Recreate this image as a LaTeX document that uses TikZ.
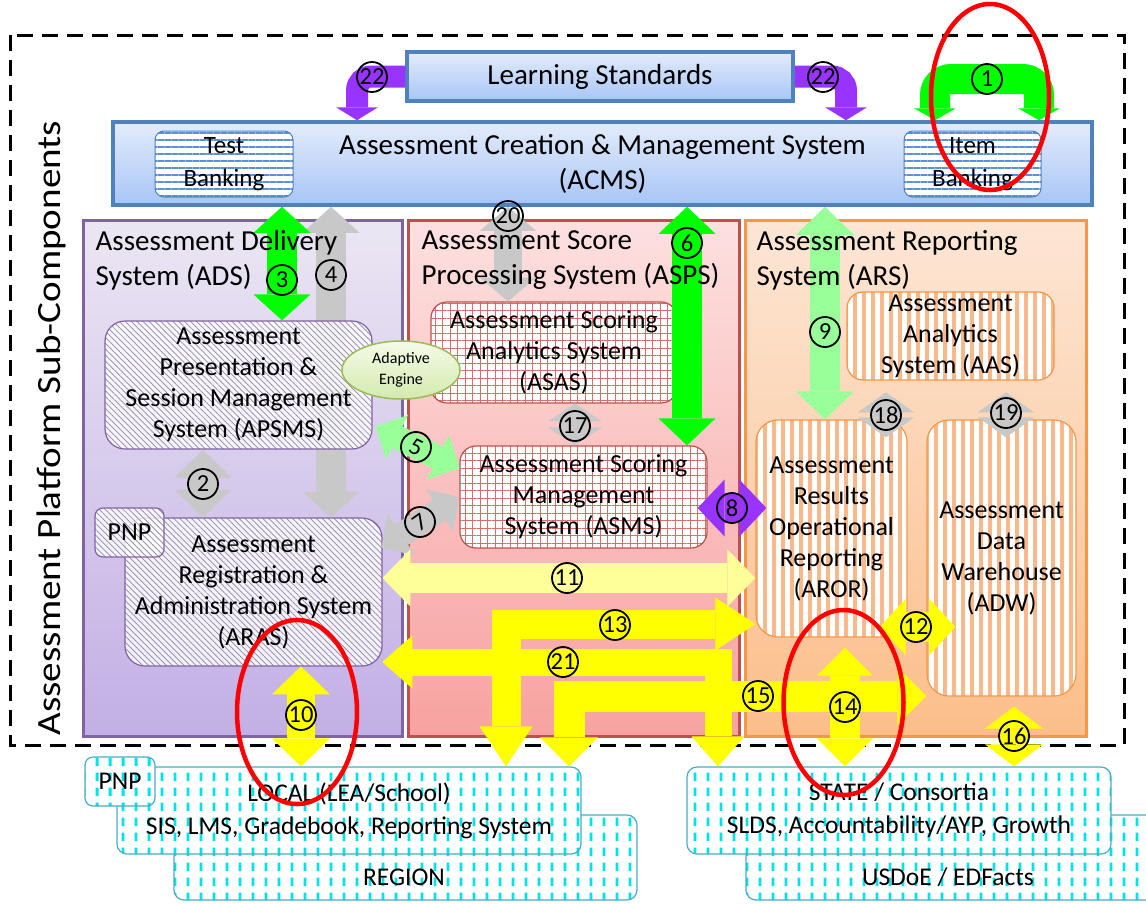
\documentclass[tikz,border=0pt]{standalone}
\usepackage{fontspec}
\setmainfont{Carlito}
\usetikzlibrary{arrows.meta,calc,shapes.geometric,patterns.meta}

\definecolor{acmsline}{HTML}{4F81BD}
\definecolor{acmstop}{HTML}{E3ECFB}
\definecolor{acmsbot}{HTML}{A8C5F6}
\definecolor{adsline}{HTML}{8064A2}
\definecolor{adstop}{HTML}{EBE6F3}
\definecolor{adsbot}{HTML}{C2AFE5}
\definecolor{aspsline}{HTML}{C0504D}
\definecolor{aspstop}{HTML}{FDE0E0}
\definecolor{aspsbot}{HTML}{F7A2A0}
\definecolor{arsline}{HTML}{F79646}
\definecolor{arstop}{HTML}{FDE6D5}
\definecolor{arsbot}{HTML}{FBBE8A}
\definecolor{stripeblue}{HTML}{5B8FD6}
\definecolor{hatchgray}{HTML}{8F86A6}
\definecolor{gridred}{HTML}{D46F6C}
\definecolor{stripeorange}{HTML}{F9B889}
\definecolor{dashcyan}{HTML}{00E1EA}
\definecolor{localline}{HTML}{4BACC6}
\definecolor{engline}{HTML}{9BBB59}
\definecolor{engtop}{HTML}{F5FBE8}
\definecolor{engbot}{HTML}{D3EAAE}
\definecolor{brightgreen}{HTML}{00FF00}
\definecolor{softgreen}{HTML}{99FF99}
\definecolor{violetarrow}{HTML}{9933FF}
\definecolor{arrowgray}{HTML}{C8C8C8}
\definecolor{brightyellow}{HTML}{FFFF00}
\definecolor{paleyellow}{HTML}{FFFF99}

\newcommand{\titletext}{\fontsize{29}{35}\selectfont}
\newcommand{\boxtext}{\fontsize{26}{31}\selectfont}
\newcommand{\banktext}{\fontsize{25}{33}\selectfont}
\newcommand{\basetext}{\fontsize{25.5}{33}\selectfont}
\newcommand{\sidetext}{\fontsize{34}{40}\selectfont}
\newcommand{\numtext}{\fontsize{24.5}{24.5}\selectfont}
\newcommand{\enginetext}{\fontsize{16}{21}\selectfont}

\tikzdeclarepattern{
  name=cyandash,
  type=uncolored,
  bounding box={(0pt,0pt) and (13pt,15pt)},
  tile size={(13pt,15pt)},
  code={\pgfpathrectangle{\pgfpoint{5pt}{3pt}}{\pgfpoint{3pt}{9pt}}\pgfusepath{fill}}
}

\tikzset{
  dashframe/.style={line width=3pt, dash pattern=on 16pt off 9pt},
  sidetitle/.style={rotate=90, xscale=1.15, font=\sidetext, inner sep=0pt},
  bluebox/.style={draw=acmsline, line width=3.5pt, top color=acmstop, bottom color=acmsbot, font=\titletext, align=center, inner sep=0pt},
  bankbox/.style={draw=acmsline, line width=1pt, rounded corners=9pt, preaction={fill=white}, pattern={Lines[distance=7pt,line width=1.8pt]}, pattern color=stripeblue, font=\banktext, align=center, inner sep=0pt},
  panel/.style={draw=#1line, line width=3pt, top color=#1top, bottom color=#1bot, inner sep=0pt},
  paneltitle/.style={anchor=north west, align=left, font=\titletext, inner sep=0pt},
  hatchbox/.style={draw=adsline, line width=1.2pt, rounded corners=20pt, preaction={fill=white, fill opacity=0.8}, pattern={Lines[angle=-45,distance=4.2pt,line width=0.7pt]}, pattern color=hatchgray, font=\boxtext, align=center, inner sep=0pt},
  gridbox/.style={draw=aspsline, line width=1.2pt, rounded corners=16pt, preaction={fill=white}, pattern={Hatch[distance=7.5pt,line width=0.9pt]}, pattern color=gridred, font=\boxtext, align=center, inner sep=0pt},
  stripebox/.style={draw=arsline, line width=1.2pt, rounded corners=22pt, preaction={fill=white}, pattern={Lines[angle=90,distance=9pt,line width=4.5pt]}, pattern color=stripeorange, font=\boxtext, align=center, inner sep=0pt},
  dashbox/.style={draw=localline, line width=1.2pt, rounded corners=10pt, preaction={fill=white}, pattern=cyandash, pattern color=dashcyan, font=\basetext, align=center, inner sep=0pt},
  engine/.style={ellipse, draw=engline, line width=1.5pt, top color=engtop, bottom color=engbot, font=\enginetext, align=center, inner sep=0pt},
  num/.style={circle, draw=black, line width=1.8pt, minimum size=30pt, inner sep=0pt, font=\numtext},
  ring/.style={draw=red, line width=4.5pt},
  sglarrow/.style n args={3}{line width=#1, arrows={-Triangle[width=#2,length=#3,line width=0pt]}},
  dblarrow/.style n args={3}{line width=#1, arrows={Triangle[width=#2,length=#3,line width=0pt]-Triangle[width=#2,length=#3,line width=0pt]}},
}

\begin{document}
\begin{tikzpicture}[x=1pt,y=-1pt]
    \useasboundingbox (0,0) rectangle (1146,903);

    % Platform boundary
    \draw[dashframe] (10,35) rectangle (1124,745);
    \node[sidetitle] (side) at (51,428) {Assessment Platform Sub-Components};

    % Learning standards and ACMS
    \node[bluebox, minimum width=386, minimum height=49] (ls) at (600,76.5) {Learning Standards};
    \node[bluebox, minimum width=979, minimum height=83] (acms) at (602.5,163.5) {Assessment Creation \& Management System\\(ACMS)};
    \node[bankbox, minimum width=138, minimum height=66] (testbank) at (224,164) {Test\\Banking};
    \node[bankbox, minimum width=137, minimum height=66] (itembank) at (972.5,164) {Item\\Banking};

    % Sub-system panels
    \node[panel=ads, minimum width=319, minimum height=516] (ads) at (242.5,478) {};
    \node[panel=asps, minimum width=331, minimum height=516] (asps) at (573.5,478) {};
    \node[panel=ars, minimum width=341, minimum height=516] (ars) at (915.5,478) {};

    % Number spots and bends
    \coordinate (c2) at (203,484);
    \coordinate (c3) at (282,280);
    \coordinate (c4) at (331,275);
    \coordinate (c6) at (687,243);
    \coordinate (c8) at (732,508);
    \coordinate (c9) at (825,332);
    \coordinate (c10) at (301,715);
    \coordinate (c11) at (567,578);
    \coordinate (c12) at (916,627);
    \coordinate (c14) at (845,707);
    \coordinate (c16) at (1014,736);
    \coordinate (c17) at (575,426);
    \coordinate (c18) at (886,415);
    \coordinate (c19) at (1006,413);
    \coordinate (c20) at (508,216);
    \coordinate (k1l) at (935,79);
    \coordinate (k1r) at (1039,79);
    \coordinate (k13) at (506,624);
    \coordinate (k15) at (569,696);
    \coordinate (k21) at (718,662);
    \coordinate (k22a) at (357,76.5);
    \coordinate (k22b) at (846,76.5);

    % Delivery system
    \node[hatchbox, minimum width=257, minimum height=148] (aras) at (253.5,592) {Assessment\\Registration \&\\Administration System\\(ARAS)};
    \node[hatchbox, rounded corners=8pt, minimum width=69, minimum height=49] (pnpa) at (129.5,532.5) {PNP};
    \draw[dblarrow={30pt}{57pt}{26pt}, arrowgray] (acms.south -| c4) -- (aras.north -| c4);
    \node[hatchbox, minimum width=267, minimum height=128] (apsms) at (238.5,385) {Assessment\\Presentation \&\\Session Management\\System (APSMS)};

    % Score processing system
    \node[gridbox, minimum width=246, minimum height=101] (asas) at (554,352.5) {Assessment Scoring\\Analytics System\\(ASAS)};
    \node[gridbox, minimum width=247, minimum height=102] (asms) at (583.5,497) {Assessment Scoring\\Management\\System (ASMS)};

    % Reporting system
    \node[stripebox, rounded corners=16pt, minimum width=207, minimum height=88] (aas) at (950.5,336) {Assessment\\Analytics\\System (AAS)};
    \node[stripebox, minimum width=151, minimum height=217] (aror) at (831.5,528.5) {Assessment\\Results\\Operational\\Reporting\\(AROR)};
    \node[stripebox, minimum width=149, minimum height=276] (adw) at (1001.5,558) {Assessment\\Data\\Warehouse\\(ADW)};

    % Outside systems
    \node[dashbox, minimum width=463, minimum height=85] (region) at (405.5,857.5) {};
    \node[dashbox, minimum width=414, minimum height=85] (usdoe) at (953,857.5) {};
    \node[dashbox, minimum width=464, minimum height=87] (local) at (349,810.5) {LOCAL (LEA/School)\\SIS, LMS, Gradebook, Reporting System};
    \node[dashbox, minimum width=424, minimum height=87] (state) at (899,810.5) {STATE / Consortia\\SLDS, Accountability/AYP, Growth};
    \node[dashbox, rounded corners=8pt, minimum width=70, minimum height=49] (pnpb) at (120,781.5) {PNP};
    \node[font=\basetext] (regionlbl) at (404,877) {REGION};
    \node[font=\basetext] (usdoelbl) at (948,877) {USDoE / EDFacts};

    % 22 and 1 into ACMS
    \draw[sglarrow={22pt}{42pt}{13pt}, violetarrow, rounded corners=14pt] (ls.west) -- (k22a) -- (acms.north -| k22a);
    \draw[sglarrow={22pt}{42pt}{13pt}, violetarrow, rounded corners=14pt] (ls.east) -- (k22b) -- (acms.north -| k22b);
    \draw[dblarrow={30pt}{42pt}{12pt}, brightgreen, rounded corners=16pt] (acms.north -| k1l) -- (k1l) -- (k1r) -- (acms.north -| k1r);

    % ACMS down to the panels
    \draw[dblarrow={30pt}{57pt}{26pt}, brightgreen] (acms.south -| c3) -- (apsms.north -| c3);
    \draw[dblarrow={28pt}{56pt}{24pt}, arrowgray] (acms.south -| c20) -- (asas.north -| c20);
    \draw[dblarrow={30pt}{57pt}{27pt}, brightgreen] (acms.south -| c6) -- (asms.north -| c6);
    \draw[dblarrow={30pt}{58pt}{28pt}, softgreen] (acms.south -| c9) -- (aror.north -| c9);

    % Inside the panels
    \draw[dblarrow={32pt}{57pt}{28pt}, arrowgray] (apsms.south -| c2) -- (aras.north -| c2);
    \draw[dblarrow={30pt}{54pt}{18pt}, arrowgray] (asas.south -| c17) -- (asms.north -| c17);
    \draw[dblarrow={30pt}{56pt}{20pt}, arrowgray, shorten <=10pt, shorten >=-18pt] (aas.south -| c18) -- (aror.north -| c18);
    \draw[dblarrow={30pt}{56pt}{20pt}, arrowgray, shorten <=10pt, shorten >=-18pt] (aas.south -| c19) -- (adw.north -| c19);

    % Between the panels
    \draw[dblarrow={24pt}{50pt}{24pt}, softgreen] ($(apsms.south east)+(3,-23)$) -- ($(asms.west)+(0,-29)$);
    \draw[dblarrow={24pt}{50pt}{24pt}, arrowgray] ($(aras.north east)+(-1,30)$) -- (asms.west);
    \draw[dblarrow={30pt}{57pt}{27pt}, violetarrow, shorten <=-10pt, shorten >=-11pt] (asms.east |- c8) -- (aror.west |- c8);
    \draw[dblarrow={30pt}{57pt}{28pt}, paleyellow] (aras.east |- c11) -- (aror.west |- c11);
    \draw[dblarrow={30pt}{56pt}{26pt}, brightyellow, shorten <=-28pt, shorten >=-29pt] (aror.east |- c12) -- (adw.west |- c12);

    % Out to local and state
    \draw[dblarrow={29pt}{53pt}{40pt}, brightyellow] (local.north -| k13) -- (k13) -- (aror.west |- k13);
    \draw[dblarrow={27pt}{53pt}{30pt}, brightyellow] (aras.east |- k21) -- (k21) -- (state.north -| k21);
    \draw[dblarrow={31pt}{58pt}{29pt}, brightyellow] (local.north -| k15) -- (k15) -- (adw.west |- k15);
    \draw[dblarrow={28pt}{58pt}{28pt}, brightyellow] (aras.south -| c10) -- (local.north -| c10);
    \draw[dblarrow={30pt}{56pt}{28pt}, brightyellow, shorten <=10pt] (aror.south -| c14) -- (state.north -| c14);
    \draw[dblarrow={28pt}{58pt}{22pt}, brightyellow, shorten <=10pt] (adw.south -| c16) -- (state.north -| c16);

    % Adaptive engine
    \node[engine, minimum width=118, minimum height=58] (engine) at (401,370) {Adaptive\\Engine};

    % Panel titles
    \node[paneltitle] (adstitle) at ([xshift=14pt,yshift=-12pt]ads.north west) {Assessment Delivery\\System (ADS)};
    \node[paneltitle] (aspstitle) at ([xshift=15pt,yshift=-12pt]asps.north west) {Assessment Score\\Processing System (ASPS)};
    \node[paneltitle] (arstitle) at ([xshift=13pt,yshift=-12pt]ars.north west) {Assessment Reporting\\System (ARS)};

    % Interface numbers
    \node[num] (n1) at (987,79) {1};
    \node[num] (n2) at (c2) {2};
    \node[num] (n3) at (c3) {3};
    \node[num] (n4) at (c4) {4};
    \node[num, rotate=-26] (n5) at (416,447) {5};
    \node[num] (n6) at (c6) {6};
    \node[num, rotate=35] (n7) at (420,522) {7};
    \node[num] (n8) at (c8) {8};
    \node[num] (n9) at (c9) {9};
    \node[num] (n10) at (c10) {10};
    \node[num] (n11) at (c11) {11};
    \node[num] (n12) at (c12) {12};
    \node[num] (n13) at (615,625) {13};
    \node[num] (n14) at (c14) {14};
    \node[num] (n15) at (758,696) {15};
    \node[num] (n16) at (c16) {16};
    \node[num] (n17) at (c17) {17};
    \node[num] (n18) at (c18) {18};
    \node[num] (n19) at (c19) {19};
    \node[num] (n20) at (c20) {20};
    \node[num] (n21) at (563,662) {21};
    \node[num] (n22a) at (372,77) {22};
    \node[num] (n22b) at (823,77) {22};

    % Highlight rings
    \draw[ring] (990,97) ellipse [x radius=59, y radius=93];
    \draw[ring] (297,712) ellipse [x radius=60, y radius=92];
    \draw[ring] (843.5,702.5) ellipse [x radius=60, y radius=92.5];
\end{tikzpicture}
\end{document}
